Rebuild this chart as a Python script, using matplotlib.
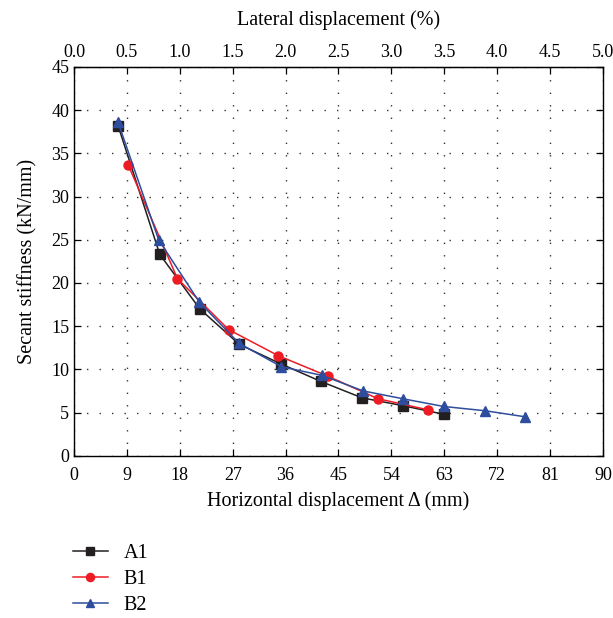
import matplotlib
matplotlib.use("Agg")
import matplotlib.pyplot as plt
import numpy as np

plt.rcParams['font.family'] = ['Liberation Serif', 'DejaVu Serif']

# Data
a1_x = [7.5, 14.6, 21.4, 28.1, 35.3, 42.0, 49.0, 55.9, 62.9]
a1_y = [38.2, 23.3, 17.0, 12.9, 10.6, 8.6, 6.7, 5.8, 4.8]
b1_x = [9.2, 17.6, 26.3, 34.7, 43.2, 51.7, 60.3]
b1_y = [33.7, 20.5, 14.6, 11.6, 9.2, 6.6, 5.3]
b2_x = [7.5, 14.4, 21.3, 28.1, 35.3, 42.2, 49.2, 55.9, 62.9, 70.0, 76.8]
b2_y = [38.6, 25.0, 17.8, 13.0, 10.3, 9.3, 7.5, 6.6, 5.7, 5.2, 4.5]
series_names = ["A1", "B1", "B2"]
x_ticks = [0, 9, 18, 27, 36, 45, 54, 63, 72, 81, 90]
y_ticks = [0, 5, 10, 15, 20, 25, 30, 35, 40, 45]
top_ticks = [0.0, 0.5, 1.0, 1.5, 2.0, 2.5, 3.0, 3.5, 4.0, 4.5, 5.0]

c_black = '#231f20'
c_red = '#ed1c24'
c_blue = '#2e4d9d'

fig = plt.figure(figsize=(6.13, 6.18), dpi=100)
ax = fig.add_axes([0.1207, 0.2626, 0.863, 0.629])

ax.plot(a1_x, a1_y, color=c_black, marker='s', ms=6.5, lw=1.1, label=series_names[0], zorder=3)
ax.plot(b1_x, b1_y, color=c_red, marker='o', ms=6.5, lw=1.1, label=series_names[1], zorder=4)
ax.plot(b2_x, b2_y, color=c_blue, marker='^', ms=7, lw=1.1, label=series_names[2], zorder=5)

ax.set_xlim(0, 90)
ax.set_ylim(0, 45)
ax.set_xticks(x_ticks)
ax.set_yticks(y_ticks)
ax.grid(True, color='#333333', linestyle=(0, (1, 8)), lw=1.0)
ax.tick_params(direction='in', length=5, labelsize=13, right=True, width=0.9)
ax.tick_params(axis='x', pad=8)
for s in ax.spines.values():
    s.set_linewidth(1.0)

ax.set_xlabel('Horizontal displacement Δ (mm)', fontsize=14.5, labelpad=5)
ax.set_ylabel('Secant stiffness (kN/mm)', fontsize=14.5, labelpad=10)

sec = ax.secondary_xaxis('top', functions=(lambda x: x / 18.0, lambda x: x * 18.0))
sec.set_xticks(top_ticks)
sec.set_xticklabels(['%.1f' % t for t in top_ticks])
sec.tick_params(direction='in', length=5, labelsize=13, width=0.9, pad=4)
sec.set_xlabel('Lateral displacement (%)', fontsize=14.5, labelpad=14)

fig.legend(loc='center left', bbox_to_anchor=(0.09, 0.062), frameon=False,
           fontsize=14.5, handlelength=1.7, handletextpad=0.8, labelspacing=0.35,
           markerscale=0.9)

fig.savefig('out.png', dpi=100)
